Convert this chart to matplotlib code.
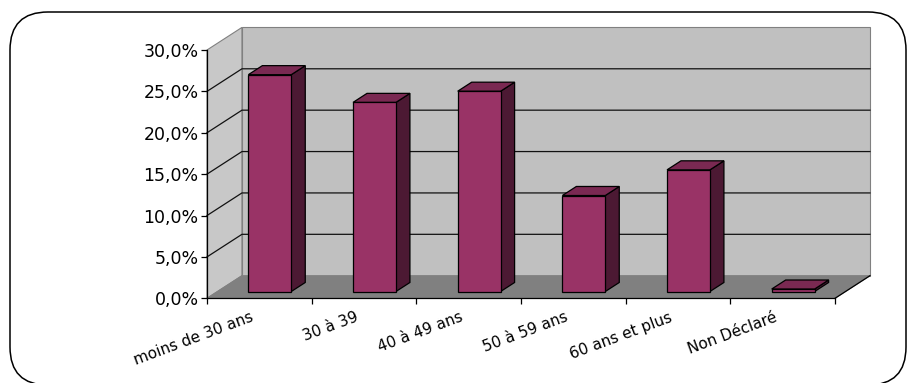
import numpy as np
import matplotlib
matplotlib.use("Agg")
import matplotlib.pyplot as plt
from matplotlib.patches import Polygon, FancyBboxPatch
from matplotlib.ticker import FuncFormatter
from matplotlib.transforms import IdentityTransform, ScaledTranslation

categories = ["moins de 30 ans", "30 à 39", "40 à 49 ans", "50 à 59 ans",
              "60 ans et plus", "Non Déclaré"]
values = [26.2, 22.85, 24.2, 11.6, 14.7, 0.3]
yticks = [0, 5, 10, 15, 20, 25, 30]

# oblique depth vector (category units, percent units)
DX, DY = 0.334, 2.73
BW = 0.41          # bar width
D0, D1 = 0.3, 0.7  # bar depth span

FRONT = "#993366"
TOP = "#7a2952"
SIDE = "#4c1933"


def proj(x, y, d):
    return (x + d * DX, y + d * DY)


def poly(ax, pts, fc, ec, lw, z):
    ax.add_patch(Polygon([proj(*p) for p in pts], closed=True, facecolor=fc,
                         edgecolor=ec, linewidth=lw, zorder=z, clip_on=False))


W, H = 909, 383
fig = plt.figure(figsize=(W / 100, H / 100), dpi=100)
plt.rcParams['font.family'] = ['DejaVu Sans']

ax = fig.add_axes([207 / W, (H - 298.3) / H, 628 / W, 248.3 / H])
n = len(categories)
ax.set_xlim(0, n)
ax.set_ylim(0, 30)
ax.patch.set_visible(False)

ymax = yticks[-1]
# walls and floor
poly(ax, [(0, 0, 0), (0, 0, 1), (0, ymax, 1), (0, ymax, 0)], "#c8c8c8", "#808080", 0.8, 1)
poly(ax, [(0, 0, 1), (n, 0, 1), (n, ymax, 1), (0, ymax, 1)], "#c0c0c0", "#808080", 0.8, 1)
poly(ax, [(0, 0, 0), (n, 0, 0), (n, 0, 1), (0, 0, 1)], "#808080", "#808080", 0.8, 1)

# gridlines on side wall and back wall
for v in yticks[1:-1]:
    xs, ys = zip(proj(0, v, 0), proj(0, v, 1), proj(n, v, 1))
    ax.plot(xs, ys, color="#111111", lw=0.9, zorder=2, clip_on=False)

# right edge of the floor
xs, ys = zip(proj(n, 0, 0), proj(n, 0, 1))
ax.plot(xs, ys, color="black", lw=0.9, zorder=2, clip_on=False)

# 3D columns
for i, v in enumerate(values):
    x0 = i + 0.5 - BW / 2
    x1 = x0 + BW
    poly(ax, [(x1, 0, D0), (x1, 0, D1), (x1, v, D1), (x1, v, D0)], SIDE, "black", 0.9, 3)
    poly(ax, [(x0, v, D0), (x1, v, D0), (x1, v, D1), (x0, v, D1)], TOP, "black", 0.9, 3)
    poly(ax, [(x0, 0, D0), (x1, 0, D0), (x1, v, D0), (x0, v, D0)], FRONT, "black", 0.9, 4)

for s in ["top", "right"]:
    ax.spines[s].set_visible(False)
for s in ["left", "bottom"]:
    ax.spines[s].set_color("black")
    ax.spines[s].set_linewidth(0.9)
    ax.spines[s].set_zorder(5)

ax.set_yticks(yticks)
ax.yaxis.set_major_formatter(FuncFormatter(lambda v, p: f"{v:.1f}%".replace(".", ",")))
ax.tick_params(axis="y", length=4.5, width=0.9, pad=1.5, labelsize=12.5, colors="black")

ax.set_xticks(np.arange(n + 1))
ax.set_xticklabels([])
ax.set_xticks(np.arange(n) + 0.5, minor=True)
ax.set_xticklabels(categories, minor=True, rotation=20.5, ha="right",
                   rotation_mode="anchor", fontsize=11)
ax.tick_params(axis="x", which="major", length=4, width=0.9)
ax.tick_params(axis="x", which="minor", length=0, pad=6)
# nudge the category labels a little left and down
shift = ScaledTranslation(-9 / 100, -3 / 100, fig.dpi_scale_trans)
for lab in ax.get_xticklabels(minor=True):
    lab.set_transform(lab.get_transform() + shift)

# rounded frame around the chart
frame = FancyBboxPatch((10, -2), 896, 373, boxstyle="round,pad=0,rounding_size=38",
                       transform=IdentityTransform(), facecolor="none",
                       edgecolor="black", linewidth=1.1, clip_on=False)
fig.patches.append(frame)

fig.savefig("out.png", dpi=100)
